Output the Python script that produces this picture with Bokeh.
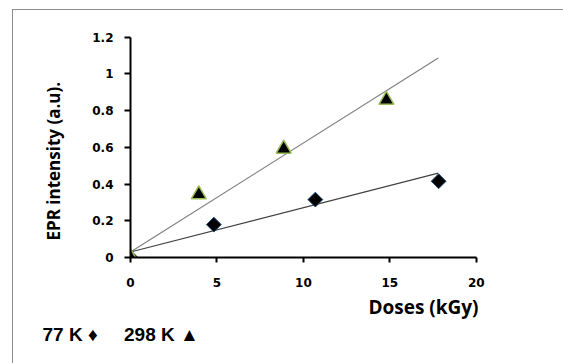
import math
from bokeh.plotting import figure
from bokeh.layouts import column
from bokeh.models import Range1d, FixedTicker, ColumnDataSource, Title
from bokeh.embed import file_html
from bokeh.resources import INLINE

# ---- data ----
dose_77 = [0.0, 4.82, 10.69, 17.82]
epr_77 = [0.0, 0.179, 0.315, 0.415]
dose_298 = [0.0, 3.95, 8.86, 14.8]
epr_298 = [0.0, 0.343, 0.591, 0.857]

# linear trend lines (slope, intercept) as drawn on the chart, and their x-span
trend_77 = (0.0241, 0.03)
trend_298 = (0.0593, 0.03)
trend_x = [0.0, 17.8]

x_ticks = [0, 5, 10, 15, 20]
x_tick_labels = ["0", "5", "10", "15", "20"]
y_ticks = [0, 0.2, 0.4, 0.6, 0.8, 1, 1.2]
y_tick_labels = ["0", "0.2", "0.4", "0.6", "0.8", "1", "1.2"]

x_title = "Doses (kGy)"
y_title = "EPR intensity (a.u)."
nb = "\u00a0"
legend_text = "77" + nb + "K" + nb + "\u2666" + nb * 5 + "298" + nb + "K" + nb + "\u25b2"

p = figure(
    frame_width=351, frame_height=226,
    x_range=Range1d(0, 20.3), y_range=Range1d(0, 1.23),
    min_border_left=117, min_border_right=82, min_border_top=21, min_border_bottom=106,
    output_backend="svg", toolbar_location=None,
    background_fill_color="white", border_fill_color="white",
)
p.outline_line_color = None
p.xgrid.visible = False
p.ygrid.visible = False

# axes crossing at the origin, outward ticks, bold tick labels
tick_font = "DejaVu Sans"
for ax, ticks, labels, tick_len, standoff in ((p.xaxis[0], x_ticks, x_tick_labels, 5, 15),
                                              (p.yaxis[0], y_ticks, y_tick_labels, 6, 11)):
    ax.ticker = FixedTicker(ticks=ticks)
    ax.bounds = (ticks[0], ticks[-1])
    ax.axis_line_color = "black"
    ax.axis_line_width = 2
    ax.major_tick_line_color = "black"
    ax.major_tick_line_width = 2
    ax.minor_tick_line_color = None
    ax.major_tick_in = 0
    ax.major_tick_out = tick_len
    ax.major_label_text_font = tick_font
    ax.major_label_text_font_style = "bold"
    ax.major_label_text_font_size = "12px"
    ax.major_label_text_color = "black"
    ax.major_label_overrides = {str(t): l for t, l in zip(ticks, labels)}
    ax.major_label_standoff = standoff

# axis titles and the legend line
title_font = "Open Sans"
p.add_layout(Title(text=x_title, align="right", offset=3, standoff=4,
                   text_font=title_font, text_font_style="bold", text_font_size="19px",
                   text_color="black"), "below")
p.add_layout(Title(text=legend_text, align="left", offset=-88, standoff=1,
                   text_font="Liberation Sans", text_font_style="bold", text_font_size="19px",
                   text_color="black"), "below")
p.add_layout(Title(text=y_title, align="left", offset=17, standoff=50,
                   text_font=title_font, text_font_style="bold", text_font_size="17px",
                   text_color="black"), "left")

# trend lines
def line_of(coef):
    return [coef[0] * x + coef[1] for x in trend_x]

p.line(trend_x, line_of(trend_298), line_color="#808080", line_width=1.2)
p.line(trend_x, line_of(trend_77), line_color="#404040", line_width=1.2)

# markers
src77 = ColumnDataSource(dict(x=dose_77, y=epr_77))
src298 = ColumnDataSource(dict(x=dose_298, y=epr_298))
p.scatter("x", "y", source=src77, marker="square", angle=math.pi / 4, size=10.5,
          fill_color="black", line_color="#1f4e79", line_width=1)
p.scatter("x", "y", source=src298, marker="triangle", size=15,
          fill_color="black", line_color="#9bbb59", line_width=1.5)

# open gray frame of the picture (left and top edges)
page = column(p, styles={"border-left": "1px solid #8c8c8c", "border-top": "1px solid #8c8c8c",
                         "margin-left": "12px", "margin-top": "9px"})

open("out.html", "w").write(file_html(page, INLINE))
